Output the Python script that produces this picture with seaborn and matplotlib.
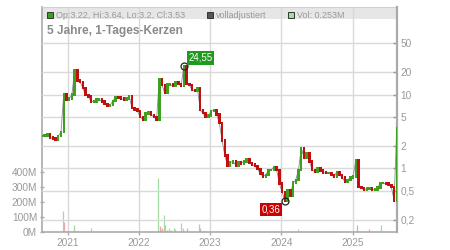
import numpy as np
import pandas as pd
import matplotlib
matplotlib.use("Agg")
import matplotlib.pyplot as plt
import matplotlib.dates as mdates
from matplotlib.patches import Rectangle
import seaborn as sns

# ---------------- data ----------------
closes = [2.75, 2.8, 2.92, 2.64, 2.55, 2.45, 2.75, 3.1, 10.2, 8.5,
          8.9, 10.0, 21.5, 15.5, 14.8, 12.2, 9.9, 9.4, 8.0, 8.1,
          8.6, 8.7, 8.0, 7.5, 7.1, 7.2, 8.2, 9.2, 9.1, 8.8,
          8.5, 8.9, 9.4, 6.6, 6.3, 6.0, 5.0, 4.6, 5.5, 5.8,
          5.3, 5.0, 4.6, 16.0, 13.5, 10.5, 13.8, 13.8, 13.0, 14.5,
          14.0, 13.0, 24.55, 14.0, 13.5, 11.5, 11.4, 12.0, 6.2, 5.6,
          5.0, 5.2, 6.0, 6.2, 5.4, 4.1, 2.4, 1.5, 1.1, 1.2,
          1.25, 1.1, 1.22, 1.17, 1.25, 1.33, 1.18, 1.13, 1.08, 0.98,
          0.85, 0.78, 0.82, 0.95, 0.95, 1.05, 0.95, 0.62, 0.48, 0.36,
          0.50, 0.43, 0.64, 0.70, 0.95, 1.9, 1.40, 1.62, 1.25, 0.95,
          0.90, 1.02, 0.93, 0.88, 0.86, 0.87, 0.82, 0.77, 0.90, 0.82,
          0.75, 0.66, 0.70, 0.75, 0.78, 1.30, 0.56, 0.54, 0.51, 0.53,
          0.54, 0.51, 0.52, 0.55, 0.63, 0.63, 0.62, 0.60, 0.56, 0.37,
          3.53]
start_date = "2020-08-21"
dates = pd.date_range(start_date, periods=len(closes), freq="14D")

vol_up_dates = ["2020-12-03", "2020-12-07", "2020-12-18", "2021-02-01", "2021-02-04",
                "2021-02-18", "2021-05-02", "2022-01-07", "2022-04-10", "2022-04-22",
                "2022-05-11", "2022-05-14", "2022-06-05", "2022-07-01", "2022-07-04",
                "2022-08-06", "2022-08-13", "2022-11-06", "2023-02-08", "2023-06-10",
                "2024-03-26", "2024-04-10", "2024-06-21", "2025-05-24"]
vol_up = [10, 138, 8, 33, 45, 6, 25, 5, 358, 15, 111, 50, 30, 30, 20, 58, 25, 52,
          5, 4, 22, 8, 6, 45]
vol_down_dates = ["2020-12-12", "2020-12-31", "2021-02-07", "2021-02-22", "2021-12-08",
                  "2022-04-17", "2022-04-29", "2022-05-24", "2022-06-15", "2022-09-02",
                  "2022-09-14", "2022-11-08", "2022-11-30", "2023-02-05", "2023-03-13",
                  "2023-12-04", "2024-09-10", "2025-01-22", "2025-03-25", "2025-08-11"]
vol_down = [67, 8, 10, 8, 7, 38, 25, 15, 12, 25, 10, 30, 10, 10, 8, 6, 5, 45, 20, 10]

price_ticks = [0.2, 0.5, 1, 2, 5, 10, 20, 50]
price_tick_labels = ["0,2", "0,5", "1", "2", "5", "10", "20", "50"]
vol_ticks = [0, 100, 200, 300, 400]
vol_tick_labels = ["0M", "100M", "200M", "300M", "400M"]
year_ticks = ["2021-01-01", "2022-01-01", "2023-01-01", "2024-01-01", "2025-01-01"]
year_labels = ["2021", "2022", "2023", "2024", "2025"]

title_text = "5 Jahre, 1-Tages-Kerzen"
legend_texts = ["Op:3.22, Hi:3.64, Lo:3.2, Cl:3.53", "volladjustiert", "Vol: 0.253M"]
high_label = "24,55"
low_label = "0,36"

# ---------------- style ----------------
sns.set_theme(style="white")
plt.rcParams["font.family"] = ["Liberation Sans", "DejaVu Sans"]

GREEN = "#3f9f1f"
RED = "#c01010"
VGREEN = "#a3dca3"
VRED = "#f0a3ab"
GRID = "#d9d9d9"
TXT = "#999999"

W, H = 450, 250
fig = plt.figure(figsize=(4.5, 2.5), dpi=100)
fig.patch.set_facecolor("white")
L, R, T, B = 41.7, 397.0, 7.0, 232.0
ax_vol = fig.add_axes([L / W, 1 - B / H, (R - L) / W, (B - T) / H])
ax_price = ax_vol.twinx()

xlim = (mdates.date2num(pd.Timestamp("2020-08-20")), mdates.date2num(pd.Timestamp("2025-08-16")))

# ---- volume axis (left) ----
ax_vol.set_facecolor("white")
ax_vol.add_patch(Rectangle((0, (B - 19.0) / (B - T)), 1, 1 - (B - 19.0) / (B - T),
                           transform=ax_vol.transAxes, color="#e6e6e6", zorder=0.1, lw=0))
ax_vol.vlines(pd.to_datetime(vol_down_dates), 0, vol_down, color=VRED, lw=0.9, zorder=2)
ax_vol.vlines(pd.to_datetime(vol_up_dates), 0, vol_up, color=VGREEN, lw=0.9, zorder=2)
ax_vol.set_ylim(0, 1500)
ax_vol.set_xlim(*xlim)
ax_vol.set_yticks(vol_ticks)
ax_vol.set_yticklabels(vol_tick_labels)
ax_vol.set_xticks(pd.to_datetime(year_ticks))
ax_vol.set_xticklabels(year_labels)
ax_vol.grid(True, axis="x", color=GRID, lw=1.0)
ax_vol.set_axisbelow(True)
ax_vol.tick_params(axis="y", which="major", direction="inout", length=3.5, width=1.0,
                   color="#aaaaaa", labelcolor=TXT, labelsize=7.3, pad=1.5, left=True)
ax_vol.tick_params(axis="x", which="major", direction="out", length=2.5, width=1.0,
                   color="#aaaaaa", labelcolor=TXT, labelsize=7.3, pad=1.5, bottom=True)
for s in ["left", "bottom"]:
    ax_vol.spines[s].set_color("#aaaaaa")
    ax_vol.spines[s].set_linewidth(1.2)
ax_vol.spines["top"].set_color("#d0d0d0")
ax_vol.spines["top"].set_linewidth(0.8)
ax_vol.spines["right"].set_visible(False)

# ---- price axis (right, log) ----
ax_price.set_yscale("log")
ax_price.set_ylim(0.1375, 153.7)
ax_price.set_xlim(*xlim)

sns.lineplot(x=dates, y=closes, ax=ax_price, color="#8a8a8a", lw=0.6, zorder=2)

xnum = mdates.date2num(dates)
opens = [closes[0]] + closes[:-1]
bottoms, heights, cols = [], [], []
for o, c in zip(opens, closes):
    lo, hi = min(o, c) / 1.04, max(o, c) * 1.04
    bottoms.append(lo)
    heights.append(hi - lo)
    cols.append(GREEN if c >= o else RED)
ax_price.bar(xnum, heights, bottom=bottoms, width=12.5, color=cols, lw=0, zorder=3)

i_hi = int(np.argmax(closes))
i_lo = int(np.argmin(closes))
ax_price.plot([xnum[i_hi]], [closes[i_hi]], "o", mfc="none", mec="#222222", ms=5, mew=0.9, zorder=5)
ax_price.plot([xnum[i_lo]], [closes[i_lo]], "o", mfc="none", mec="#222222", ms=5, mew=0.9, zorder=5)
ax_price.annotate(high_label, xy=(xnum[i_hi], closes[i_hi]), xytext=(16.5, 8),
                  textcoords="offset pixels", ha="center", va="center", fontsize=7,
                  color="white", zorder=6,
                  bbox=dict(boxstyle="square,pad=0.18", fc="#1e9a1e", ec="none"))
ax_price.annotate(low_label, xy=(xnum[i_lo], closes[i_lo]), xytext=(-14, -8.5),
                  textcoords="offset pixels", ha="center", va="center", fontsize=7,
                  color="white", zorder=6,
                  bbox=dict(boxstyle="square,pad=0.18", fc="#cc0000", ec="none"))

ax_price.set_yticks(price_ticks)
ax_price.set_yticklabels(price_tick_labels)
ax_price.yaxis.set_minor_locator(matplotlib.ticker.NullLocator())
ax_price.grid(True, axis="y", which="major", color=GRID, lw=1.0)
ax_price.set_axisbelow(True)
ax_price.tick_params(axis="y", which="major", direction="in", length=3, width=1.0,
                     color="#999999", labelcolor=TXT, labelsize=7.3, pad=2.5, right=True)
ax_price.set_xlabel("")
ax_price.set_ylabel("")
ax_vol.set_xlabel("")
ax_vol.set_ylabel("")
for s in ["left", "bottom", "top"]:
    ax_price.spines[s].set_visible(False)
ax_price.spines["right"].set_color("#aaaaaa")
ax_price.spines["right"].set_linewidth(1.6)

# ---- header ----
def px(x, y):
    return x / W, 1 - y / H

fig.text(*px(47.3, 34.4), title_text, fontsize=8.6, fontweight="bold", color="#8a8a8a",
         ha="left", va="baseline")
squares = [(46.5, GREEN), (206.7, "#555555"), (287.5, VGREEN)]
text_x = [56.0, 216.0, 296.7]
for (sx, col), tx, txt in zip(squares, text_x, legend_texts):
    fx, fy = px(sx, 17.6)
    fig.add_artist(Rectangle((fx, fy), 6 / W, 6 / H, transform=fig.transFigure,
                             fc=col, ec="#333333", lw=0.7))
    fig.text(*px(tx, 17.7), txt, fontsize=6.5, color=TXT, ha="left", va="baseline")

fig.savefig("out.png", dpi=100, facecolor="white")
